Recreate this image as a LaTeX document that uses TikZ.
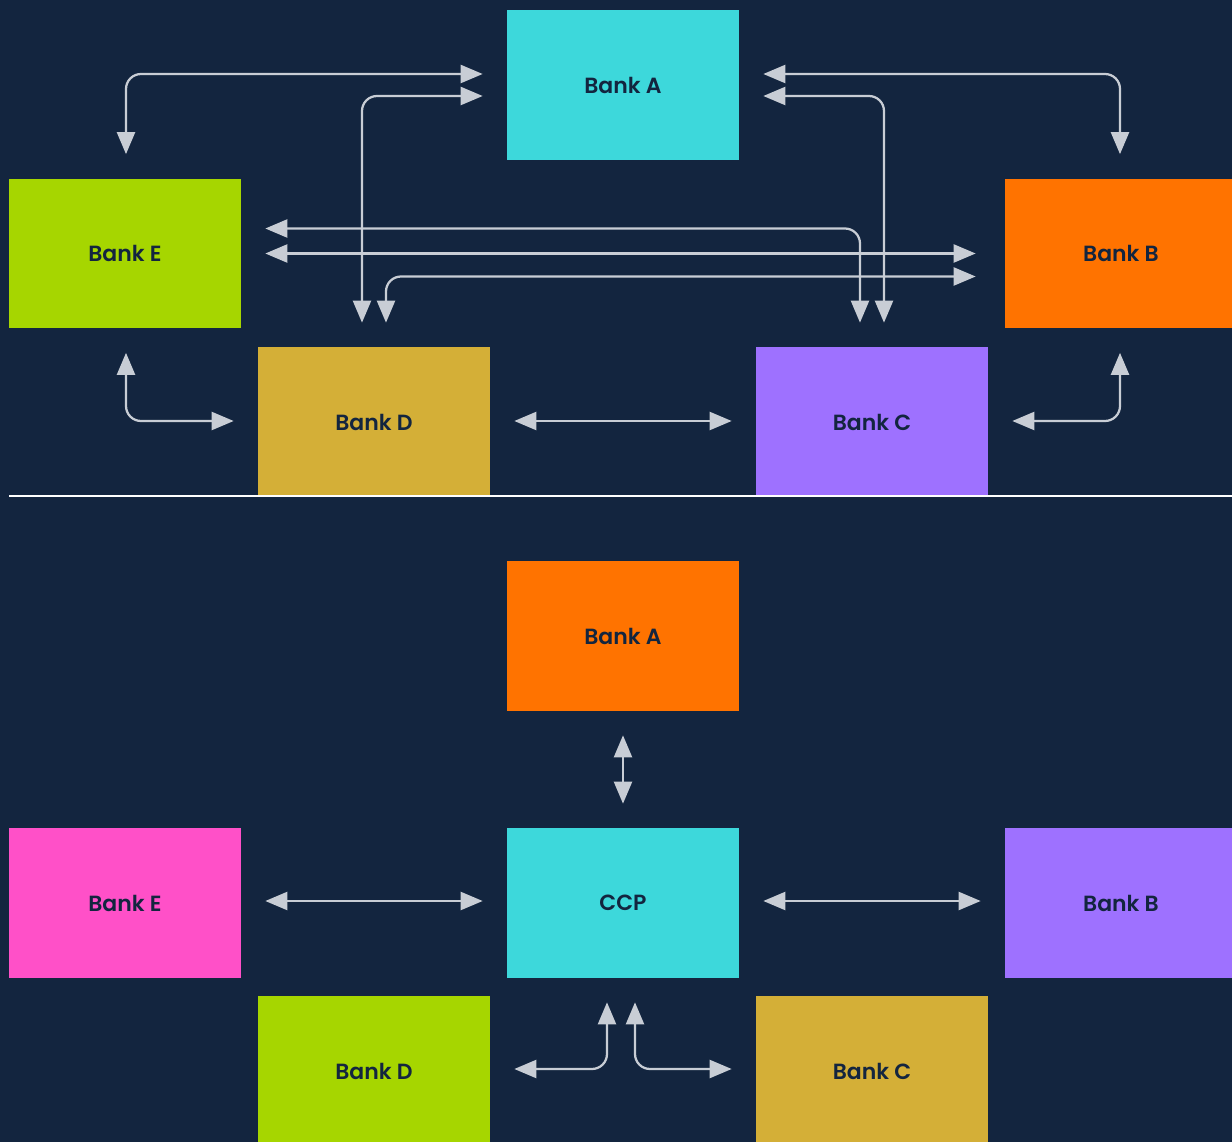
\documentclass[tikz,border=0pt]{standalone}
\usepackage{fontspec}
\setmainfont{Poppins}[BoldFont={Poppins SemiBold}]
\usetikzlibrary{calc,arrows.meta}
\definecolor{navy}{HTML}{13253F}
\definecolor{linkgray}{HTML}{C8CDD5}
\definecolor{bcyan}{HTML}{3DD8DB}
\definecolor{blime}{HTML}{A6D600}
\definecolor{borange}{HTML}{FF7300}
\definecolor{bgold}{HTML}{D4AF37}
\definecolor{bpurple}{HTML}{9E71FF}
\definecolor{bpink}{HTML}{FF50C8}
\tikzset{
  bank/.style={fill=#1, minimum width=4.64cm, minimum height=3cm, inner sep=0pt,
    text=navy, font=\fontsize{12.5}{14}\selectfont\bfseries},
  link/.style={draw=linkgray, line width=0.045cm, rounded corners=0.3cm,
    {Triangle[length=0.44cm,width=0.36cm]}-{Triangle[length=0.44cm,width=0.36cm]},
    shorten <=0.48cm, shorten >=0.48cm},
  farlink/.style={link, shorten >=0.58cm}
}
\begin{document}
\begin{tikzpicture}[x=0.02cm, y=-0.02cm]
			%%%%% BACKGROUND %%%%%
			\fill[navy] (0, 0) rectangle (1232, 1142);
			\useasboundingbox (0, 0) rectangle (1232, 1142);
			\clip (0, 0) rectangle (1232, 1142);
			
			%%%%% BILATERAL %%%%%
			\node[bank=bcyan]   (bA) at (623, 85)    {Bank A};
			\node[bank=blime]   (bE) at (125, 253.5) {Bank E};
			\node[bank=borange] (bB) at (1121, 253.5) {Bank B};
			\node[bank=bgold]   (bD) at (374, 422)   {Bank D};
			\node[bank=bpurple] (bC) at (872, 422)   {Bank C};
			
			\draw[link] ($(bE.north)+(1, 0)$) |- ($(bA.west)+(0, -11)$);
			\draw[link] ($(bD.north)+(-12, 0)$) |- ($(bA.west)+(0, 11)$);
			\draw[link] ($(bA.east)+(0, -11)$) -| ($(bB.north)+(-1, 0)$);
			\draw[link] ($(bA.east)+(0, 11)$) -| ($(bC.north)+(12, 0)$);
			\draw[link] ($(bE.east)+(0, -25)$) -| ($(bC.north)+(-12, 0)$);
			\draw[farlink] (bE.east) -- (bB.west);
			\draw[farlink] ($(bD.north)+(12, 0)$) |- ($(bB.west)+(0, 23)$);
			\draw[link] ($(bE.south)+(1, 0)$) |- ($(bD.west)+(0, -1)$);
			\draw[link] ($(bD.east)+(0, -1)$) -- ($(bC.west)+(0, -1)$);
			\draw[link] ($(bC.east)+(0, -1)$) -| ($(bB.south)+(-1, 0)$);
			
			\draw[white, line width=0.04cm] (9, 496) -- (1232, 496);
			
			%%%%% CENTRAL COUNTERPARTY %%%%%
			\node[bank=borange] (cA) at (623, 636)    {Bank A};
			\node[bank=bpink]   (cE) at (125, 903)    {Bank E};
			\node[bank=bcyan]   (ccp) at (623, 903)   {CCP};
			\node[bank=bpurple] (cB) at (1121, 903)   {Bank B};
			\node[bank=blime]   (cD) at (374, 1071)   {Bank D};
			\node[bank=bgold]   (cC) at (872, 1071)   {Bank C};
			
			\draw[link] (cA.south) -- (ccp.north);
			\draw[link] ($(cE.east)+(0, -2)$) -- ($(ccp.west)+(0, -2)$);
			\draw[link] ($(ccp.east)+(0, -2)$) -- ($(cB.west)+(0, -2)$);
			\draw[link] ($(cD.east)+(0, -2)$) -| ($(ccp.south)+(-16, 0)$);
			\draw[link] ($(ccp.south)+(12, 0)$) |- ($(cC.west)+(0, -2)$);
\end{tikzpicture}
\end{document}
